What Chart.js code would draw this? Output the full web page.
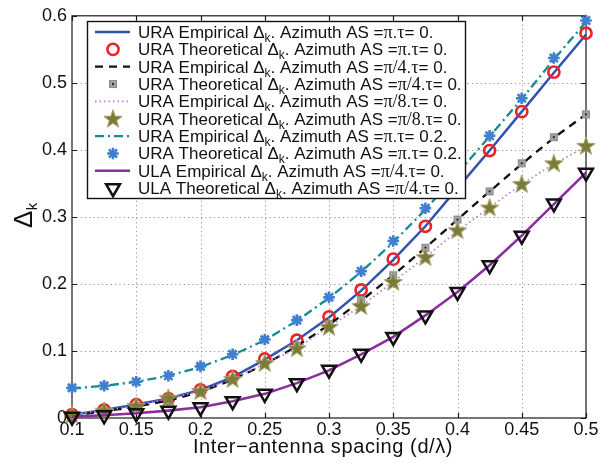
<!DOCTYPE html>
<html>
<head>
<meta charset="utf-8">
<script src="https://cdn.jsdelivr.net/npm/chart.js@4.4.1/dist/chart.umd.min.js"></script>
<style>
  html, body { margin: 0; padding: 0; background: #ffffff; }
  #wrap { width: 611px; height: 468px; position: relative; }
</style>
</head>
<body>
<div id="wrap"><canvas id="c" width="611" height="468"></canvas></div>
<script>
// Inter-antenna spacing d/lambda
const spacing = [0.1, 0.125, 0.15, 0.175, 0.2, 0.225, 0.25, 0.275, 0.3, 0.325, 0.35, 0.375, 0.4, 0.425, 0.45, 0.475, 0.5];

// URA, azimuth AS = pi, tau = 0
const uraEmpPi   = [0.005, 0.012, 0.020, 0.029, 0.042, 0.061, 0.087, 0.116, 0.150, 0.190, 0.236, 0.286, 0.343, 0.399, 0.457, 0.515, 0.572];
const uraTheoPi  = [0.005, 0.012, 0.020, 0.029, 0.042, 0.062, 0.088, 0.116, 0.151, 0.191, 0.237, 0.286, null, 0.399, 0.457, 0.516, 0.574];
// URA, azimuth AS = pi/4, tau = 0
const uraEmpPi4  = [0.004, 0.010, 0.017, 0.026, 0.039, 0.057, 0.080, 0.107, 0.139, 0.175, 0.213, 0.254, 0.296, 0.338, 0.379, 0.418, 0.453];
const uraTheoPi4 = [0.004, 0.010, 0.017, 0.026, 0.039, 0.058, 0.081, 0.108, 0.140, 0.176, 0.213, 0.254, 0.296, 0.338, 0.380, 0.419, 0.453];
// URA, azimuth AS = pi/8, tau = 0
const uraEmpPi8  = [0.005, 0.011, 0.018, 0.029, 0.040, 0.058, 0.081, 0.104, 0.136, 0.167, 0.203, 0.240, 0.279, 0.314, 0.349, 0.379, 0.405];
const uraTheoPi8 = [0.005, 0.011, 0.018, 0.030, 0.040, 0.058, 0.082, 0.104, 0.136, 0.167, 0.203, 0.240, 0.280, 0.314, 0.349, 0.380, 0.406];
// URA, azimuth AS = pi, tau = 0.2
const uraEmpTau  = [0.044, 0.048, 0.054, 0.063, 0.076, 0.094, 0.116, 0.145, 0.179, 0.218, 0.262, 0.311, 0.365, 0.420, 0.476, 0.535, 0.591];
const uraTheoTau = [0.045, 0.048, 0.054, 0.063, 0.077, 0.095, 0.117, 0.146, 0.180, 0.219, 0.264, 0.313, null, 0.421, 0.477, 0.537, 0.593];
// ULA, azimuth AS = pi/4, tau = 0
const ulaEmp     = [0.002, 0.004, 0.007, 0.011, 0.016, 0.025, 0.036, 0.052, 0.071, 0.095, 0.121, 0.153, 0.188, 0.228, 0.272, 0.319, 0.366];
const ulaTheo    = [0.002, 0.004, 0.007, 0.011, 0.016, 0.025, 0.036, 0.052, 0.072, 0.096, 0.121, 0.153, 0.188, 0.228, 0.272, 0.320, 0.366];

// Legend wording
const arrays     = ['URA', 'URA', 'URA', 'URA', 'URA', 'URA', 'URA', 'URA', 'ULA', 'ULA'];
const methods    = ['Empirical', 'Theoretical', 'Empirical', 'Theoretical', 'Empirical', 'Theoretical', 'Empirical', 'Theoretical', 'Empirical', 'Theoretical'];
const azimuths   = ['π', 'π', 'π/4', 'π/4', 'π/8', 'π/8', 'π', 'π', 'π/4', 'π/4'];
const taus       = ['0', '0', '0', '0', '0', '0', '0.2', '0.2', '0', '0'];

// Axis ticks
const xTicks = [0.1, 0.15, 0.2, 0.25, 0.3, 0.35, 0.4, 0.45, 0.5];
const yTicks = [0, 0.1, 0.2, 0.3, 0.4, 0.5, 0.6];

const SANS = '"Liberation Sans", Arial, Helvetica, sans-serif';
const SERIF = '"Liberation Serif", "Times New Roman", serif';

// Filled pentagram marker
function makePentagram() {
  const c = document.createElement('canvas');
  c.width = 22; c.height = 22;
  const g = c.getContext('2d');
  const cx = 11, cy = 11.6, ro = 9.6, ri = 3.8;
  g.beginPath();
  for (let i = 0; i < 10; i++) {
    const r = i % 2 === 0 ? ro : ri;
    const a = -Math.PI / 2 + i * Math.PI / 5;
    const px = cx + r * Math.cos(a), py = cy + r * Math.sin(a);
    if (i === 0) g.moveTo(px, py); else g.lineTo(px, py);
  }
  g.closePath();
  g.fillStyle = '#7b7a37';
  g.fill();
  g.lineWidth = 1;
  g.strokeStyle = '#a3a165';
  g.stroke();
  return c;
}

// Grey square marker
function makeSquare() {
  const c = document.createElement('canvas');
  c.width = 10; c.height = 10;
  const g = c.getContext('2d');
  g.fillStyle = '#a2a2a2';
  g.fillRect(1, 1, 8, 8);
  g.strokeStyle = '#8a8a8a';
  g.lineWidth = 1;
  g.strokeRect(1.5, 1.5, 7, 7);
  g.fillStyle = '#2a2a2a';
  g.fillRect(4, 4, 2, 2);
  return c;
}

const pentagram = makePentagram();
const squareImg = makeSquare();

const styles = [
  { line: true,  color: '#3152b0', width: 2.5, dash: [] },
  { line: false, color: '#ee2222', pointStyle: 'circle', radius: 5.6, bw: 2.6 },
  { line: true,  color: '#111111', width: 2.3, dash: [8, 6] },
  { line: false, color: '#999999', pointStyle: squareImg, radius: 5, bw: 0 },
  { line: true,  color: '#c27ad8', width: 1.8, dash: [1.5, 3] },
  { line: false, color: '#7b7a37', pointStyle: pentagram, radius: 10, bw: 0 },
  { line: true,  color: '#128c8c', width: 2.3, dash: [9, 4, 2, 4] },
  { line: false, color: '#3f7fd0', pointStyle: 'star', radius: 5.8, bw: 2.6 },
  { line: true,  color: '#8a2e9e', width: 2.6, dash: [] },
  { line: false, color: '#111111', pointStyle: 'triangle', radius: 8, bw: 2.5, rotation: 180 }
];

const seriesValues = [uraEmpPi, uraTheoPi, uraEmpPi4, uraTheoPi4, uraEmpPi8, uraTheoPi8, uraEmpTau, uraTheoTau, ulaEmp, ulaTheo];

const datasets = seriesValues.map((vals, i) => {
  const s = styles[i];
  const pts = spacing.map((x, k) => ({ x: x, y: vals[k] }));
  const base = {
    label: arrays[i] + ' ' + methods[i] + ' Δk. Azimuth AS =' + azimuths[i] + '.τ= ' + taus[i] + '.',
    data: pts,
    order: -i,
    clip: false
  };
  if (s.line) {
    return Object.assign(base, {
      showLine: true, borderColor: s.color, borderWidth: s.width, borderDash: s.dash,
      pointRadius: 0, tension: 0, fill: false
    });
  }
  return Object.assign(base, {
    showLine: false, pointStyle: s.pointStyle, pointRadius: s.radius,
    pointBorderWidth: s.bw, pointBorderColor: s.color, pointBackgroundColor: 'rgba(0,0,0,0)',
    pointRotation: s.rotation || 0, borderColor: s.color, backgroundColor: 'rgba(0,0,0,0)'
  });
});

function fmt(v) {
  const r = Math.round(v * 1000) / 1000;
  return String(r);
}

// Dotted grid, box and inward tick marks
const framePlugin = {
  id: 'frame',
  beforeDatasetsDraw(chart) {
    const { ctx, chartArea: a, scales: { x, y } } = chart;
    ctx.save();
    ctx.strokeStyle = '#9a9a9a';
    ctx.lineWidth = 1;
    ctx.setLineDash([1.3, 3]);
    xTicks.forEach(v => {
      const px = Math.round(x.getPixelForValue(v)) + 0.5;
      if (px < a.left + 2 || px > a.right - 2) return;
      ctx.beginPath(); ctx.moveTo(px, a.top); ctx.lineTo(px, a.bottom); ctx.stroke();
    });
    yTicks.forEach(v => {
      const py = Math.round(y.getPixelForValue(v)) + 0.5;
      if (py < a.top + 2 || py > a.bottom - 2) return;
      ctx.beginPath(); ctx.moveTo(a.left, py); ctx.lineTo(a.right, py); ctx.stroke();
    });
    ctx.setLineDash([]);
    ctx.strokeStyle = '#1a1a1a';
    ctx.lineWidth = 1.2;
    ctx.strokeRect(a.left, a.top, a.right - a.left, a.bottom - a.top);
    const tl = 5;
    ctx.beginPath();
    xTicks.forEach(v => {
      const px = Math.round(x.getPixelForValue(v)) + 0.5;
      ctx.moveTo(px, a.bottom); ctx.lineTo(px, a.bottom - tl);
      ctx.moveTo(px, a.top); ctx.lineTo(px, a.top + tl);
    });
    yTicks.forEach(v => {
      const py = Math.round(y.getPixelForValue(v)) + 0.5;
      ctx.moveTo(a.left, py); ctx.lineTo(a.left + tl, py);
      ctx.moveTo(a.right, py); ctx.lineTo(a.right - tl, py);
    });
    ctx.stroke();
    ctx.restore();
  }
};

function drawParts(ctx, parts, x, y) {
  parts.forEach(p => {
    ctx.font = p.font;
    ctx.fillText(p.t, x, y + (p.dy || 0));
    x += ctx.measureText(p.t).width;
  });
  return x;
}

function drawMarker(ctx, s, x, y) {
  const opts = { pointStyle: s.pointStyle, radius: s.radius, rotation: s.rotation || 0, borderWidth: s.bw };
  ctx.save();
  ctx.strokeStyle = s.color;
  ctx.fillStyle = 'rgba(0,0,0,0)';
  ctx.lineWidth = s.bw;
  if (Chart.helpers && Chart.helpers.drawPoint) {
    Chart.helpers.drawPoint(ctx, opts, x, y);
  } else if (s.pointStyle instanceof HTMLCanvasElement) {
    ctx.drawImage(s.pointStyle, x - s.pointStyle.width / 2, y - s.pointStyle.height / 2);
  }
  ctx.restore();
}

// Legend box, axis titles
const legendPlugin = {
  id: 'richLegend',
  afterDraw(chart) {
    const { ctx } = chart;
    ctx.save();
    // legend
    const L = 87, T = 21, R = 465, B = 198;
    ctx.fillStyle = '#ffffff';
    ctx.fillRect(L, T, R - L, B - T);
    ctx.strokeStyle = '#111111';
    ctx.lineWidth = 1.4;
    ctx.strokeRect(L + 0.5, T + 0.5, R - L, B - T);
    const rowH = 17.35;
    const f17 = '17px ' + SANS, f12 = '12px ' + SANS, fs = '18px ' + SERIF;
    for (let i = 0; i < 10; i++) {
      const cy = T + 11 + i * rowH;
      const s = styles[i];
      if (s.line) {
        ctx.save();
        ctx.strokeStyle = s.color;
        ctx.lineWidth = s.width;
        ctx.setLineDash(s.dash);
        ctx.beginPath(); ctx.moveTo(95, cy); ctx.lineTo(130, cy); ctx.stroke();
        ctx.restore();
      } else {
        drawMarker(ctx, s, 113, cy);
      }
      ctx.fillStyle = '#111111';
      ctx.textBaseline = 'alphabetic';
      ctx.textAlign = 'left';
      drawParts(ctx, [
        { t: arrays[i] + ' ' + methods[i] + ' ', font: f17 },
        { t: 'Δ', font: f17 },
        { t: 'k', font: f12, dy: 4 },
        { t: '. Azimuth AS =', font: f17 },
        { t: azimuths[i], font: fs },
        { t: '.', font: f17 },
        { t: 'τ', font: fs },
        { t: '= ' + taus[i] + '.', font: f17 }
      ], 138, cy + 6);
    }
    // x title
    ctx.fillStyle = '#111111';
    ctx.font = '20px ' + SANS;
    if ('letterSpacing' in ctx) ctx.letterSpacing = '0.6px';
    ctx.textAlign = 'center';
    ctx.textBaseline = 'alphabetic';
    ctx.fillText('Inter−antenna spacing (d/λ)', 323, 453);
    if ('letterSpacing' in ctx) ctx.letterSpacing = '0px';
    // y title
    ctx.save();
    ctx.translate(32, 228);
    ctx.rotate(-Math.PI / 2);
    ctx.textAlign = 'left';
    ctx.font = '26px ' + SANS;
    ctx.fillText('Δ', 0, 0);
    const w = ctx.measureText('Δ').width;
    ctx.font = '15px ' + SANS;
    ctx.fillText('k', w + 0.5, 5);
    ctx.restore();
    ctx.restore();
  }
};

new Chart(document.getElementById('c').getContext('2d'), {
  type: 'line',
  data: { datasets: datasets },
  options: {
    responsive: false,
    animation: false,
    devicePixelRatio: 1,
    layout: { padding: { left: 0, right: 25, top: 14, bottom: 0 } },
    plugins: { legend: { display: false }, tooltip: { enabled: false }, title: { display: false } },
    scales: {
      x: {
        type: 'linear', min: 0.1, max: 0.5,
        afterBuildTicks: s => { s.ticks = xTicks.map(v => ({ value: v })); },
        ticks: { font: { family: SANS, size: 18 }, color: '#111111', padding: 1, maxRotation: 0, autoSkip: false, callback: v => fmt(v) },
        grid: { display: false, drawTicks: false },
        border: { display: false },
        afterFit: s => { s.height = 50; }
      },
      y: {
        type: 'linear', min: 0, max: 0.6,
        afterBuildTicks: s => { s.ticks = yTicks.map(v => ({ value: v })); },
        ticks: { font: { family: SANS, size: 18 }, color: '#111111', padding: 5, autoSkip: false, callback: v => fmt(v) },
        grid: { display: false, drawTicks: false },
        border: { display: false },
        afterFit: s => { s.width = 72; }
      }
    }
  },
  plugins: [framePlugin, legendPlugin]
});
</script>
</body>
</html>
